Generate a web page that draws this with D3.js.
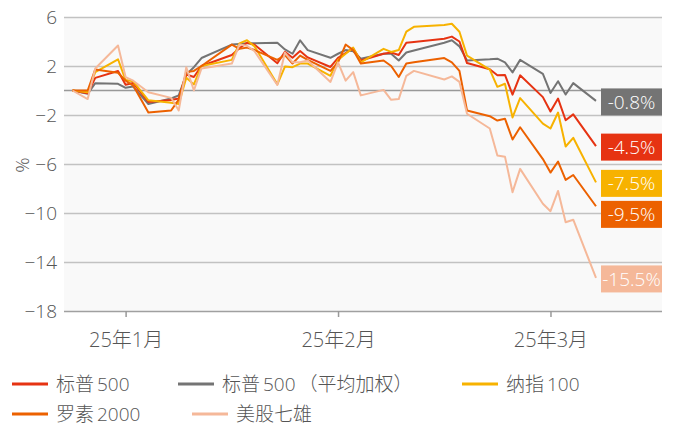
<!DOCTYPE html>
<html>
<head>
<meta charset="utf-8">
<script src="https://cdn.jsdelivr.net/npm/d3@7"></script>
<style>
  html, body { margin: 0; padding: 0; background: #fff; }
  svg { display: block; font-family: "Open Sans", "Noto Sans CJK SC", sans-serif; }
</style>
</head>
<body>
<div id="chart"></div>
<script>
const dates = [
  "2024-12-31", "2025-01-02", "2025-01-03", "2025-01-06", "2025-01-07", "2025-01-08",
  "2025-01-10", "2025-01-13", "2025-01-14", "2025-01-15", "2025-01-16", "2025-01-17",
  "2025-01-21", "2025-01-22", "2025-01-23", "2025-01-24", "2025-01-27", "2025-01-28",
  "2025-01-29", "2025-01-30", "2025-01-31", "2025-02-03", "2025-02-04", "2025-02-05",
  "2025-02-06", "2025-02-07", "2025-02-10", "2025-02-11", "2025-02-12", "2025-02-13",
  "2025-02-14", "2025-02-18", "2025-02-19", "2025-02-20", "2025-02-21", "2025-02-24",
  "2025-02-25", "2025-02-26", "2025-02-27", "2025-02-28", "2025-03-03", "2025-03-04",
  "2025-03-05", "2025-03-06", "2025-03-07", "2025-03-10"
];

const sp500 = [
  0, -0.22, 1.03, 1.59, 0.47, 0.62, -0.93, -0.77, -0.66, 1.3, 1.1, 2.0,
  2.9, 3.45, 3.9, 3.73, 2.22, 3.16, 2.68, 3.22, 2.7, 1.92, 2.66, 3.06,
  3.43, 2.45, 3.0, 3.1, 2.9, 3.9, 3.96, 4.22, 4.4, 4.0, 2.24, 1.73,
  1.25, 1.27, -0.34, 1.24, -0.54, -1.72, -0.66, -2.43, -1.95, -4.54
];
const sp500Equal = [
  0, -0.27, 0.6, 0.55, 0.22, 0.32, -1.1, -0.65, -0.4, 1.3, 1.9, 2.65,
  3.75, 3.8, 3.85, 3.85, 3.9, 3.35, 3.0, 4.1, 3.3, 2.67, 3.0, 3.3,
  3.2, 2.6, 3.0, 3.0, 2.45, 3.1, 3.27, 3.9, 4.1, 3.6, 2.45, 2.55,
  2.6, 2.3, 1.48, 2.5, 1.36, -0.2, 0.76, -0.33, 0.6, -0.85
];
const ndx100 = [
  0, -0.15, 1.5, 2.55, 0.85, 0.75, -0.8, -1.0, -1.1, 1.05, 0.5, 2.0,
  2.5, 3.85, 4.1, 3.6, 0.5, 1.95, 1.9, 2.2, 2.2, 1.2, 2.5, 3.0,
  3.5, 2.3, 3.4, 3.15, 3.3, 4.8, 5.2, 5.35, 5.45, 4.8, 2.85, 1.7,
  0.3, 0.55, -2.2, -0.62, -2.7, -3.1, -1.8, -4.57, -3.86, -7.5
];
const russell2000 = [
  0, 0, 1.72, 1.45, 0.8, 0.4, -1.8, -1.63, -0.75, 1.5, 1.6, 2.0,
  3.75, 3.4, 3.5, 3.3, 2.5, 2.9, 2.2, 2.85, 2.5, 1.6, 2.3, 3.75,
  3.3, 2.2, 2.45, 2.0, 1.1, 2.2, 2.3, 2.65, 2.3, 1.6, -1.63, -2.1,
  -2.45, -2.3, -4.0, -3.0, -5.6, -6.7, -5.8, -7.3, -6.9, -9.45
];
const mag7 = [
  0, -0.7, 1.8, 3.67, 1.1, 0.8, -0.14, -0.6, -1.63, 1.9, 0.0, 1.8,
  2.2, 3.75, 3.65, 3.2, 0.45, 3.1, 2.3, 2.3, 2.45, 0.7, 2.3, 0.8,
  1.5, -0.4, 0.05, -0.76, -0.7, 1.2, 1.6, 0.9, 1.15, 0.7, -1.9, -3.1,
  -5.3, -5.4, -8.3, -6.4, -9.25, -9.85, -8.2, -10.75, -10.55, -15.3
];

const seriesNames = ["标普500", "标普500（平均加权）", "纳指100", "罗素2000", "美股七雄"];
const seriesValues = [sp500, sp500Equal, ndx100, russell2000, mag7];
const seriesColors = ["#e63312", "#747474", "#f7b200", "#ec6100", "#f5b899"];
const endLabels = ["-4.5%", "-0.8%", "-7.5%", "-9.5%", "-15.5%"];
const drawOrder = [1, 0, 2, 3, 4];

const yTicks = [6, 2, -2, -6, -10, -14, -18];
const xTickDates = ["2025-01-07", "2025-02-04", "2025-03-04"];
const xTickLabels = ["25年1月", "25年2月", "25年3月"];

const width = 675;
const height = 428;
const margin = { top: 17, left: 64, right: 13, bottom: 117 };
const parseTime = d3.timeParse("%Y-%m-%d");
const textColor = "#555";

const svg = d3.select("#chart").append("svg")
  .attr("width", width)
  .attr("height", height);

const plotW = width - margin.left - margin.right;
const plotH = height - margin.top - margin.bottom;

const g = svg.append("g")
  .attr("transform", `translate(${margin.left}, ${margin.top})`);

g.append("rect")
  .attr("width", plotW)
  .attr("height", plotH)
  .attr("fill", "#f9f9f9");

const x = d3.scaleTime()
  .domain(d3.extent(dates, d => parseTime(d)))
  .range([8.5, 532]);
const y = d3.scaleLinear().domain([-18, 6]).range([plotH, 0]);

// grid + y labels
const yAxis = g.append("g")
  .call(d3.axisLeft(y).tickValues(yTicks).tickSize(-plotW).tickFormat(d3.format("d")).tickPadding(7));
yAxis.select(".domain").remove();
yAxis.selectAll(".tick line")
  .attr("stroke", d => d === -18 ? "#a0a0a0" : "#c2c2c2")
  .attr("stroke-width", 1.5);
yAxis.selectAll(".tick text")
  .attr("fill", textColor)
  .style("font-size", "19px")
  .style("font-weight", 300)
  .style("font-family", "'Open Sans', sans-serif");

g.append("line")
  .attr("x1", 0).attr("x2", plotW)
  .attr("y1", y(0)).attr("y2", y(0))
  .attr("stroke", "#999")
  .attr("stroke-width", 1.5);

// splits "标普500" into runs so CJK and digits get a little air between them
const runs = s => s.match(/[\u3000-\u9fff\uff00-\uffef]+|[^\u3000-\u9fff\uff00-\uffef]+/g);
const spacedText = (sel, s) => {
  runs(s).forEach((r, k) => {
    sel.append("tspan").attr("dx", k > 0 ? 3 : 0).text(r);
  });
};

// x axis
const xAxis = g.append("g")
  .attr("transform", `translate(0, ${plotH})`)
  .call(d3.axisBottom(x)
    .tickValues(xTickDates.map(parseTime))
    .tickFormat((d, i) => xTickLabels[i])
    .tickSize(6)
    .tickPadding(16));
xAxis.select(".domain").remove();
xAxis.selectAll(".tick line").attr("stroke", "#999").attr("stroke-width", 1.5);
xAxis.selectAll(".tick text")
  .attr("fill", textColor)
  .style("font-size", "20px")
  .style("font-family", "'Open Sans', 'Noto Sans CJK SC', sans-serif")
  .style("font-weight", 300);

svg.append("text")
  .attr("transform", `translate(22, 165) rotate(-90)`)
  .attr("text-anchor", "middle")
  .attr("dy", "0.36em")
  .attr("fill", textColor)
  .style("font-size", "19px")
  .style("font-weight", 300)
  .text("%");

// lines
const line = vals => d3.line()
  .x((d, i) => x(parseTime(dates[i])))
  .y(d => y(d))(vals);

drawOrder.forEach(i => {
  g.append("path")
    .attr("d", line(seriesValues[i]))
    .attr("fill", "none")
    .attr("stroke", seriesColors[i])
    .attr("stroke-width", 2)
    .attr("stroke-linejoin", "round");
});

// end labels, pushed apart when they collide
const boxH = 27;
const gap = 4;
const labels = seriesValues.map((vals, i) => ({ i, cy: y(vals[vals.length - 1]) + 1 }))
  .sort((a, b) => a.cy - b.cy);
labels.forEach((l, k) => {
  if (k > 0 && l.cy - labels[k - 1].cy < boxH + gap) l.cy = labels[k - 1].cy + boxH + gap;
});
const boxX = x(parseTime(dates[dates.length - 1])) + 5;
labels.forEach(l => {
  g.append("rect")
    .attr("x", boxX)
    .attr("y", l.cy - boxH / 2)
    .attr("width", plotW - boxX)
    .attr("height", boxH)
    .attr("fill", seriesColors[l.i]);
  g.append("text")
    .attr("x", boxX + (plotW - boxX) / 2)
    .attr("y", l.cy)
    .attr("dy", "0.36em")
    .attr("text-anchor", "middle")
    .attr("fill", "#fff")
    .style("font-size", "19px")
    .style("font-weight", 300)
    .text(endLabels[l.i]);
});

// legend
const legendPos = [[12, 384], [178, 384], [462, 384], [12, 414], [192, 414]];
seriesNames.forEach((name, i) => {
  const [lx, ly] = legendPos[i];
  const item = svg.append("g").attr("transform", `translate(${lx}, ${ly})`);
  item.append("line")
    .attr("x1", 0).attr("x2", 36)
    .attr("stroke", seriesColors[i])
    .attr("stroke-width", 3);
  const t = item.append("text")
    .attr("x", 44)
    .attr("dy", "0.36em")
    .attr("fill", textColor)
    .style("font-size", "19px")
    .style("font-weight", 300);
  spacedText(t, name);
});
</script>
</body>
</html>
